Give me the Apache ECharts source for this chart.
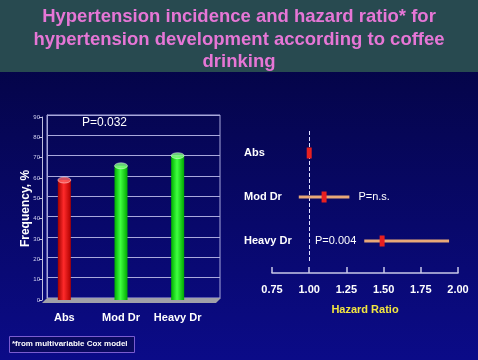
<!DOCTYPE html>
<html><head><meta charset="utf-8">
<script src="https://cdn.jsdelivr.net/npm/echarts@6/dist/echarts.min.js"></script>
<style>html,body{margin:0;padding:0;background:#05053f}#c{width:478px;height:360px}</style>
</head><body><div id="c"></div>
<script>
// Left panel: hypertension incidence
const groups = ['Abs', 'Mod Dr', 'Heavy Dr'];
const frequency = [59, 66, 71];
const freqTicks = [0, 90, 10]; // min, max, interval
// Right panel: hazard ratios
const hrRows = ['Abs', 'Mod Dr', 'Heavy Dr'];
const hrPoint = [1.00, 1.10, 1.49];
const hrLow = [null, 0.93, 1.37];
const hrHigh = [null, 1.27, 1.94];
const hrTicks = [0.75, 2.00, 0.25];
const hrPText = ['', 'P=n.s.', 'P=0.004'];

const chart = echarts.init(document.getElementById('c'));
const font = 'Liberation Sans, Arial, sans-serif';
const barColors = [
  {type:'linear',x:0,y:0,x2:1,y2:0,colorStops:[{offset:0,color:'#a00000'},{offset:0.45,color:'#ff2a2a'},{offset:1,color:'#b00000'}]},
  {type:'linear',x:0,y:0,x2:1,y2:0,colorStops:[{offset:0,color:'#00b000'},{offset:0.45,color:'#40ff40'},{offset:1,color:'#00a800'}]},
  {type:'linear',x:0,y:0,x2:1,y2:0,colorStops:[{offset:0,color:'#00b000'},{offset:0.45,color:'#40ff40'},{offset:1,color:'#00a800'}]}
];
const topColors = ['#ff6060', '#80ff80', '#80ff80'];

const option = {
  backgroundColor: {type:'linear',x:0,y:0,x2:0,y2:1,colorStops:[{offset:0,color:'#03033a'},{offset:1,color:'#0b0b88'}]},
  animation: false,
  title: {
    text: 'Hypertension incidence and hazard ratio* for\nhypertension development according to coffee\ndrinking',
    left: 'center', top: 1,
    textStyle: {color:'#e676d6', fontSize:18.5, fontWeight:'bold', fontFamily:font, lineHeight:22.5, align:'center'}
  },
  graphic: [
    {type:'rect', z:-10, shape:{x:0,y:0,width:478,height:72}, style:{fill:'#284a50'}},
    {type:'polygon', z:5, shape:{points:[[47,298],[221,298],[216,303],[42,303]]}, style:{fill:'#a0a0a8'}},
    {type:'text', left:82, top:117, style:{text:'P=0.032', fill:'#ffffff', font:'12px '+font}},
    {type:'rect', shape:{x:9.5,y:336.5,width:125,height:16}, style:{fill:'#0a0a60', stroke:'#7a5cd0', lineWidth:1}},
    {type:'text', left:12, top:340, style:{text:'*from multivariable Cox model', fill:'#ffffff', font:'bold 8px '+font}}
  ],
  grid: [
    {left:47, top:115, width:173, height:183, show:true, borderColor:'#a8a8dc', borderWidth:1, backgroundColor:'transparent'},
    {left:36, top:117, width:170, height:183},
    {left:272, top:131, width:186, height:132}
  ],
  xAxis: [
    {gridIndex:0, type:'category', data:groups, show:false},
    {gridIndex:1, type:'category', data:groups, axisLine:{show:false}, axisTick:{show:false},
     axisLabel:{color:'#ffffff', fontWeight:'bold', fontSize:11, fontFamily:font, margin:12, interval:0}},
    {gridIndex:2, type:'value', min:hrTicks[0], max:hrTicks[1], interval:hrTicks[2], offset:10,
     axisLine:{show:true, lineStyle:{color:'#c8c8e8', width:1.5}},
     axisTick:{show:true, inside:true, length:6, lineStyle:{color:'#c8c8e8', width:1.5}},
     splitLine:{show:false},
     axisLabel:{color:'#ffffff', fontWeight:'bold', fontSize:11, fontFamily:font, margin:11, formatter:v=>v.toFixed(2)},
     name:'Hazard Ratio', nameLocation:'middle', nameGap:31,
     nameTextStyle:{color:'#f2e640', fontWeight:'bold', fontSize:11, fontFamily:font}}
  ],
  yAxis: [
    {gridIndex:0, type:'value', min:freqTicks[0], max:freqTicks[1], interval:freqTicks[2],
     axisLine:{show:true, lineStyle:{color:'#a8a8dc'}}, axisTick:{show:false}, axisLabel:{show:false},
     splitLine:{show:true, lineStyle:{color:'#a8a8dc', width:1}}},
    {gridIndex:1, type:'value', min:freqTicks[0], max:freqTicks[1], interval:freqTicks[2], offset:-6,
     axisLine:{show:true, lineStyle:{color:'#c0c0e0'}}, axisTick:{show:true, length:3, lineStyle:{color:'#c0c0e0'}},
     splitLine:{show:false},
     axisLabel:{color:'#d0d0f0', fontSize:6, fontFamily:font, margin:2},
     name:'Frequency, %', nameLocation:'middle', nameGap:10, nameRotate:90, nameMoveOverlap:false,
     nameTextStyle:{color:'#ffffff', fontWeight:'bold', fontSize:12, fontFamily:font}},
    {gridIndex:2, type:'category', data:hrRows, inverse:true,
     axisLine:{show:false}, axisTick:{show:false},
     axisLabel:{color:'#ffffff', fontWeight:'bold', fontSize:11, fontFamily:font, align:'left', margin:28, interval:0}}
  ],
  series: [
    {type:'bar', xAxisIndex:1, yAxisIndex:1, barWidth:13, z:6,
     data: frequency.map((v,i)=>({value:v, itemStyle:{color:barColors[i]}}))},
    {type:'scatter', xAxisIndex:1, yAxisIndex:1, symbol:'circle', symbolSize:[13,6], z:7,
     data: frequency.map((v,i)=>({value:v, itemStyle:{color:topColors[i], borderColor:'#ffffff', borderWidth:0.5}}))},
    {type:'custom', xAxisIndex:2, yAxisIndex:2, z:8,
     data: hrRows.map((r,i)=>[hrPoint[i], i]),
     encode:{x:0, y:1},
     renderItem: function(params, api){
       const i = params.dataIndex;
       const p = api.coord([hrPoint[i], i]);
       const children = [];
       if (hrLow[i] != null) {
         const a = api.coord([hrLow[i], i]);
         const b = api.coord([hrHigh[i], i]);
         children.push({type:'line', shape:{x1:a[0], y1:a[1], x2:b[0], y2:b[1]}, style:{stroke:'#e8a878', lineWidth:3}});
       }
       children.push({type:'rect', shape:{x:p[0]-2.5, y:p[1]-5.5, width:5, height:11}, style:{fill:'#e82020'}});
       return {type:'group', children:children};
     },
     markLine:{silent:true, symbol:'none', label:{show:false},
       lineStyle:{color:'#e0e0ff', type:'dashed', width:1},
       data:[{xAxis:1}]}
    },
    {type:'custom', xAxisIndex:2, yAxisIndex:2, z:8,
     data: hrRows.map((r,i)=>[hrPoint[i], i]),
     encode:{x:0, y:1},
     renderItem: function(params, api){
       const i = params.dataIndex;
       if (!hrPText[i]) return null;
       let anchor, align;
       if (hrHigh[i] != null && hrHigh[i] < 1.5) { anchor = api.coord([hrHigh[i], i]); anchor[0] += 9; align='left'; }
       else { anchor = api.coord([hrLow[i], i]); anchor[0] -= 8; align='right'; }
       return {type:'text', x:anchor[0], y:anchor[1], style:{text:hrPText[i], fill:'#ffffff', font:'11px '+font, textAlign:align, textVerticalAlign:'middle'}};
     }
    }
  ]
};
chart.setOption(option);
</script></body></html>
